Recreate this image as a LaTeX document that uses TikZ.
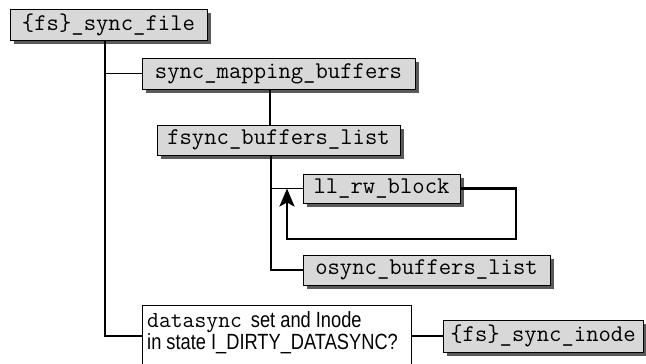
\documentclass[tikz,border=0pt]{standalone}
\usepackage{fontspec}
\setmainfont{Liberation Sans}
\newfontfamily\narrowf[FakeStretch=0.83]{Liberation Sans}
\usetikzlibrary{arrows.meta,shadows}
\definecolor{boxgray}{HTML}{D8D8D8}
\definecolor{shadowgray}{HTML}{5A5A5A}
\tikzset{
  fnbox/.style={draw=black, line width=1pt, fill=boxgray, inner sep=0pt,
    font=\ttfamily\fontsize{24}{26}\selectfont,
    drop shadow={shadow xshift=3.5pt, shadow yshift=-3.5pt, fill=shadowgray, opacity=1}},
  conn/.style={line width=1.5pt, black},
  loopline/.style={line width=2.6pt, black, -{Stealth[length=18pt,width=15pt,inset=4pt]}},
  qbox/.style={draw=black, line width=1pt, fill=white, inner sep=0pt, anchor=north west}
}
\begin{document}
\begin{tikzpicture}[x=1pt,y=-1pt]
\useasboundingbox (0,0) rectangle (646,364);
\clip (0,0) rectangle (646,364);
\fill[white] (0,0) rectangle (646,364);
% boxes
\node[fnbox, minimum width=197pt, minimum height=31pt] (A) at (108.5,24.5) {\{fs\}\_sync\_file};
\node[fnbox, minimum width=273pt, minimum height=31pt] (B) at (278.5,73.5) {sync\_mapping\_buffers};
\node[fnbox, minimum width=243pt, minimum height=30pt] (C) at (278.5,140) {fsync\_buffers\_list};
\node[fnbox, minimum width=157pt, minimum height=29pt] (D) at (381.5,188.5) {ll\_rw\_block};
\node[fnbox, minimum width=247pt, minimum height=30pt] (E) at (426.5,270) {osync\_buffers\_list};
\node[fnbox, minimum width=200pt, minimum height=32pt] (G) at (543,336) {\{fs\}\_sync\_inode};
\node[qbox, minimum width=269pt, minimum height=80pt] (F) at (142,305) {};
\node[anchor=north west, inner sep=0pt, align=left,
      font=\narrowf\fontsize{22}{20}\selectfont] (Ftext) at (147,311)
  {{\ttfamily\fontsize{23}{20}\selectfont datasync}\hspace{9pt}set and Inode\\in state I\_DIRTY\_DATASYNC?};
% coordinates
\coordinate (tx) at (105,0);
\coordinate (bx) at (270,0);
\coordinate (cx) at (271,0);
\coordinate (lc) at (516,239);
\coordinate (la) at (287,0);
% connectors
\draw[conn] (A.south -| tx) |- (F.west |- G.west);
\draw[conn] (tx |- B.west) -- (B.west);
\draw[conn] (B.south -| bx) -- (C.north -| bx);
\draw[conn] (C.south -| cx) |- (E.west);
\draw[conn] (cx |- D.west) -- (D.west);
\draw[conn] (F.east |- G.west) -- (G.west);
\draw[loopline] (D.east) -| (lc) -| (la |- D.west);
\end{tikzpicture}
\end{document}
